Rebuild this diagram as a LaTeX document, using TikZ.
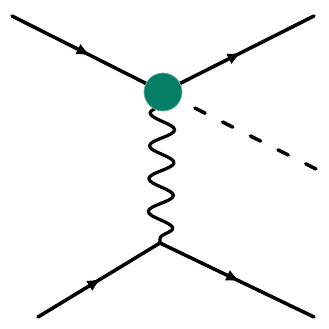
\documentclass[tikz,border=0pt]{standalone}
\usepackage{tikz}
\usepackage{xcolor}
\usetikzlibrary{arrows.meta,decorations.markings,decorations.pathmorphing}

\definecolor{blobgreen}{RGB}{6,126,102}

\tikzset{
  fermion/.style={line width=2.5pt, postaction={decorate},
    decoration={markings, mark=at position 0.52 with {\arrow{Latex[length=10pt,width=8.5pt]}}}},
  photon/.style={line width=2.3pt, decorate,
    decoration={snake, mirror, amplitude=0.31cm, segment length=0.82cm, pre length=0.275cm}},
  scalar/.style={line width=2.5pt, dash pattern=on 0.2875cm off 0.4875cm, dash phase=0.6575cm},
  blob/.style={circle, fill=blobgreen, draw=blobgreen!60, line width=0.5pt, minimum size=0.95cm, inner sep=0pt}
}

\begin{document}
\begin{tikzpicture}[x=0.025cm, y=0.025cm, >=Latex, line cap=round, line join=round]
  \useasboundingbox (0,0) rectangle (329,329);

  \coordinate (inT)  at (12,313);
  \coordinate (outT) at (314,313);
  \coordinate (sEnd) at (316,160);
  \coordinate (inB)  at (38,12);
  \coordinate (outB) at (314,12);
  \coordinate (v1)   at (163,237);
  \coordinate (v2)   at (160,86);

  \draw[fermion] (inT) -- (v1);
  \draw[fermion] (v1) -- (outT);
  \draw[scalar]  (v1) -- (sEnd);
  \draw[photon]  (v1) -- (v2);
  \draw[fermion] (inB) -- (v2);
  \draw[fermion] (v2) -- (outB);

  % effective vertex on top of the lines
  \node[blob] (blob1) at (v1) {};
\end{tikzpicture}
\end{document}
